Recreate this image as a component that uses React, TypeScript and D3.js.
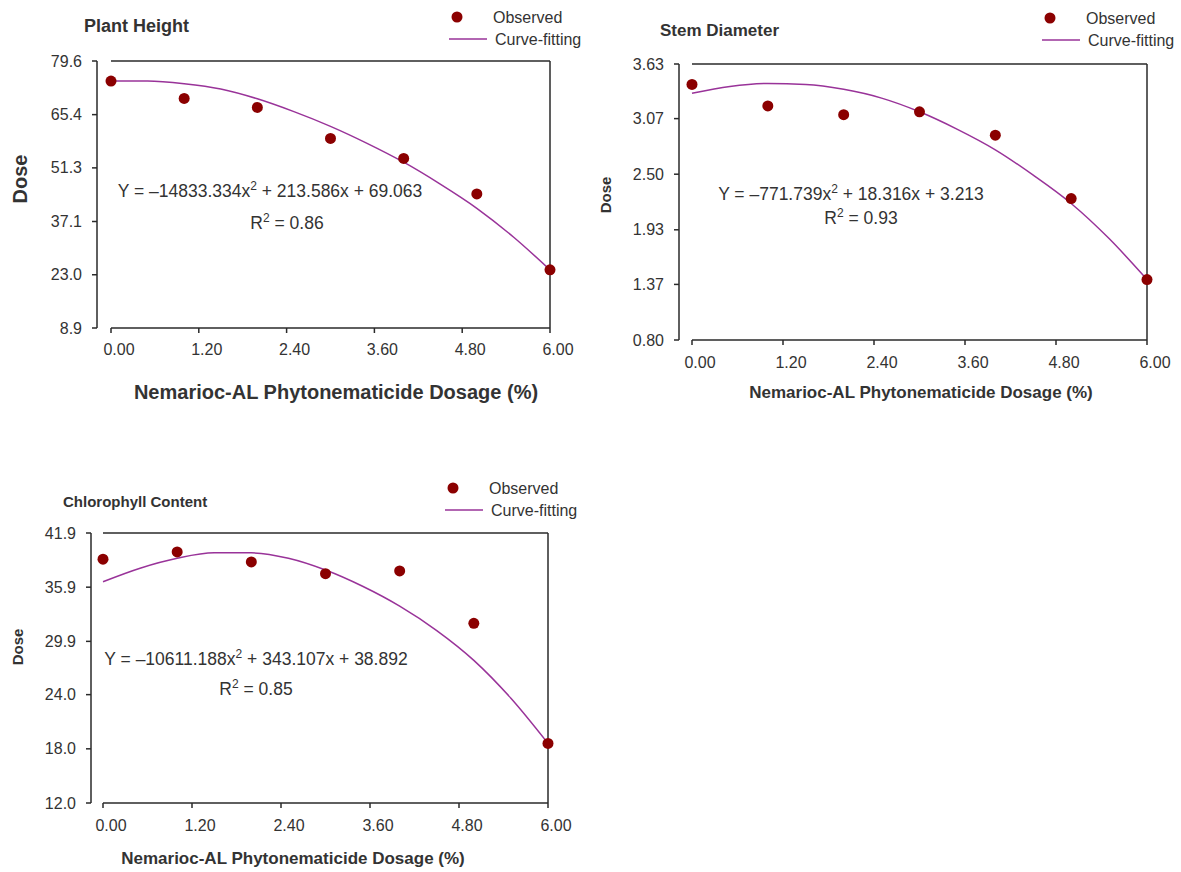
import * as d3 from 'd3';

// dosage levels (%) of the observed points and of the fitted curve
const doses = [0, 1, 2, 3, 4, 5, 6];
const fitDoses = [0, 0.5, 1, 1.5, 2, 2.5, 3, 3.5, 4, 4.5, 5, 5.5, 6];
const xTicks = [0, 1.2, 2.4, 3.6, 4.8, 6.0];

const plantHeightObserved = [74.3, 69.7, 67.3, 59.1, 53.8, 44.4, 24.3];
const plantHeightFit = [74.3, 74.3, 73.6, 72.2, 69.6, 66.2, 62.3, 57.8, 52.8, 47.0, 40.6, 33.0, 24.3];
const plantHeightTicks = [8.9, 23.0, 37.1, 51.3, 65.4, 79.6];

const stemDiameterObserved = [3.42, 3.2, 3.11, 3.14, 2.9, 2.25, 1.42];
const stemDiameterFit = [3.33, 3.4, 3.43, 3.42, 3.37, 3.28, 3.14, 2.96, 2.75, 2.49, 2.2, 1.84, 1.42];
const stemDiameterTicks = [0.8, 1.37, 1.93, 2.5, 3.07, 3.63];

const chlorophyllObserved = [39.0, 39.8, 38.7, 37.4, 37.7, 31.9, 18.6];
const chlorophyllFit = [36.5, 38.0, 39.1, 39.7, 39.7, 39.1, 37.8, 36.0, 33.8, 31.1, 27.8, 23.6, 18.6];
const chlorophyllTicks = [12.0, 18.0, 24.0, 29.9, 35.9, 41.9];

const FONT = '"Liberation Sans", Arial, sans-serif';
const TEXT = '#333';
const AXIS = '#2a2a2a';
const DOT = '#8b0000';
const CURVE = '#993399';

const panels = [
  {
    title: 'Plant Height', observed: plantHeightObserved, fit: plantHeightFit, ticks: plantHeightTicks, digits: 1,
    eq: ['Y = \u201314833.334x', ' + 213.586x + 69.063'], r2: '0.86',
    axisX: 97, left: 111, right: 550, top: 61, bottom: 328,
    titlePos: [84, 32, 18], xTitle: [336, 399, 20], dose: [27, 179, 20],
    legend: [457, 17], eqPos: [270, 197], r2Pos: [287, 229], xLab: 355,
  },
  {
    title: 'Stem Diameter', observed: stemDiameterObserved, fit: stemDiameterFit, ticks: stemDiameterTicks, digits: 2,
    eq: ['Y = \u2013771.739x', ' + 18.316x + 3.213'], r2: '0.93',
    axisX: 679, left: 692, right: 1147, top: 64, bottom: 340,
    titlePos: [660, 36, 17], xTitle: [921, 398, 17], dose: [611, 195, 15],
    legend: [1050, 18], eqPos: [851, 200], r2Pos: [861, 224], xLab: 368,
  },
  {
    title: 'Chlorophyll Content', observed: chlorophyllObserved, fit: chlorophyllFit, ticks: chlorophyllTicks, digits: 1,
    eq: ['Y = \u201310611.188x', ' + 343.107x + 38.892'], r2: '0.85',
    axisX: 91, left: 103, right: 548, top: 533, bottom: 803,
    titlePos: [63, 507, 15], xTitle: [293, 864, 17], dose: [23, 647, 15],
    legend: [453, 488], eqPos: [256, 665], r2Pos: [256, 695], xLab: 831,
  },
];

const Panel = ({p}) => {
  const x = d3.scaleLinear().domain([0, 6]).range([p.left, p.right]);
  const y = d3.scaleLinear().domain([p.ticks[0], p.ticks[p.ticks.length - 1]]).range([p.bottom, p.top]);
  const line = d3.line()
    .x((d, i) => x(fitDoses[i]))
    .y(d => y(d))
    .curve(d3.curveMonotoneX);
  const [lx, ly] = p.legend;

  return (
    <g fontFamily={FONT} fill={TEXT}>
      <text x={p.titlePos[0]} y={p.titlePos[1]} fontSize={p.titlePos[2]} fontWeight="bold">{p.title}</text>

      {/* legend */}
      <circle cx={lx} cy={ly} r={5.5} fill={DOT} />
      <text x={lx + 36} y={ly + 6} fontSize={16}>Observed</text>
      <line x1={lx - 8} x2={lx + 30} y1={ly + 22} y2={ly + 22} stroke={CURVE} strokeWidth={1.5} />
      <text x={lx + 38} y={ly + 28} fontSize={16}>Curve-fitting</text>

      {/* y axis, offset from the frame */}
      <line x1={p.axisX} x2={p.axisX} y1={p.top} y2={p.bottom} stroke={AXIS} strokeWidth={1.5} />
      {p.ticks.map(t => (
        <g key={t}>
          <line x1={p.axisX - 5} x2={p.axisX} y1={y(t)} y2={y(t)} stroke={AXIS} strokeWidth={1.5} />
          <text x={p.axisX - 15} y={y(t)} dy="0.35em" fontSize={16} textAnchor="end">{t.toFixed(p.digits)}</text>
        </g>
      ))}

      {/* x axis and frame */}
      <line x1={p.left} x2={p.right} y1={p.bottom} y2={p.bottom} stroke={AXIS} strokeWidth={1.5} />
      <line x1={p.left} x2={p.right} y1={p.top} y2={p.top} stroke={AXIS} strokeWidth={1.5} />
      <line x1={p.right} x2={p.right} y1={p.top} y2={p.bottom} stroke={AXIS} strokeWidth={1.5} />
      {xTicks.map(t => (
        <g key={t}>
          <line x1={x(t)} x2={x(t)} y1={p.bottom} y2={p.bottom + 5} stroke={AXIS} strokeWidth={1.5} />
          <text x={x(t) + 8} y={p.xLab} fontSize={16} textAnchor="middle">{t.toFixed(2)}</text>
        </g>
      ))}

      <text x={p.xTitle[0]} y={p.xTitle[1]} fontSize={p.xTitle[2]} fontWeight="bold" textAnchor="middle">
        Nemarioc-AL Phytonematicide Dosage (%)
      </text>
      <text transform={`translate(${p.dose[0]},${p.dose[1]}) rotate(-90)`} fontSize={p.dose[2]}
        fontWeight="bold" textAnchor="middle">Dose</text>

      {/* fitted curve and observations */}
      <path d={line(p.fit)} fill="none" stroke={CURVE} strokeWidth={1.5} />
      {p.observed.map((v, i) => (
        <circle key={i} cx={x(doses[i])} cy={y(v)} r={5.5} fill={DOT} />
      ))}

      <text x={p.eqPos[0]} y={p.eqPos[1]} fontSize={17.5} textAnchor="middle">
        {p.eq[0]}<tspan dy={-7} fontSize={12}>2</tspan><tspan dy={7}>{p.eq[1]}</tspan>
      </text>
      <text x={p.r2Pos[0]} y={p.r2Pos[1]} fontSize={17.5} textAnchor="middle">
        R<tspan dy={-7} fontSize={12}>2</tspan><tspan dy={7}>{' = ' + p.r2}</tspan>
      </text>
    </g>
  );
};

export default function App() {
  return (
    <svg width={1181} height={872} style={{position: 'absolute', left: 0, top: 0, background: '#fff'}}>
      {panels.map(p => <Panel key={p.title} p={p} />)}
    </svg>
  );
}
